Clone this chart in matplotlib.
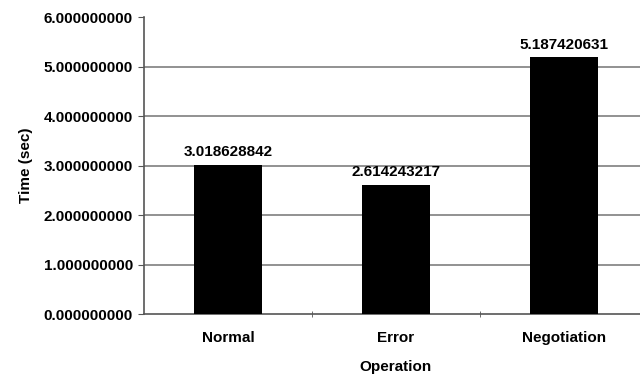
import matplotlib.pyplot as plt
from matplotlib.ticker import FormatStrFormatter

operations = ['Normal', 'Error', 'Negotiation']
times = [3.018628842, 2.614243217, 5.187420631]

plt.rcParams['font.family'] = ['Liberation Sans', 'DejaVu Sans']
plt.rcParams['font.weight'] = 'bold'

fig = plt.figure(figsize=(6.4, 3.78), dpi=100)
ax = fig.add_axes([0.225, 0.169, 0.7875, 0.786])

x = range(len(operations))
bars = ax.bar(x, times, width=0.4, color='black', zorder=3)

for b, t in zip(bars, times):
    ax.annotate(f'{t:.9f}', (b.get_x() + b.get_width() / 2, t),
                xytext=(0, 4), textcoords='offset points',
                ha='center', va='bottom', fontsize=11, fontweight='bold')

ax.set_xlim(-0.5, 2.5)
ax.set_ylim(0, 6)
ax.set_yticks([0, 1, 2, 3, 4, 5, 6])
ax.yaxis.set_major_formatter(FormatStrFormatter('%.9f'))
for y in [1, 2, 3, 4, 5]:
    ax.axhline(y, color='#7f7f7f', lw=1.2, zorder=1)

ax.set_xticks(list(x))
ax.set_xticklabels(operations)
ax.set_xticks([0.5, 1.5], minor=True)
ax.tick_params(axis='x', which='major', length=0, pad=12, labelsize=11)
ax.tick_params(axis='x', which='minor', length=4, direction='inout', color='#555555')
ax.tick_params(axis='y', length=4, color='#555555', labelsize=11, pad=4)

for s in ['top', 'right']:
    ax.spines[s].set_visible(False)
for s in ['left', 'bottom']:
    ax.spines[s].set_color('#555555')
    ax.spines[s].set_linewidth(1.2)

ax.set_xlabel('Operation', fontsize=11, fontweight='bold', labelpad=11)
ax.set_ylabel('Time (sec)', fontsize=11, fontweight='bold', labelpad=8)

fig.savefig('out.png', dpi=100)
